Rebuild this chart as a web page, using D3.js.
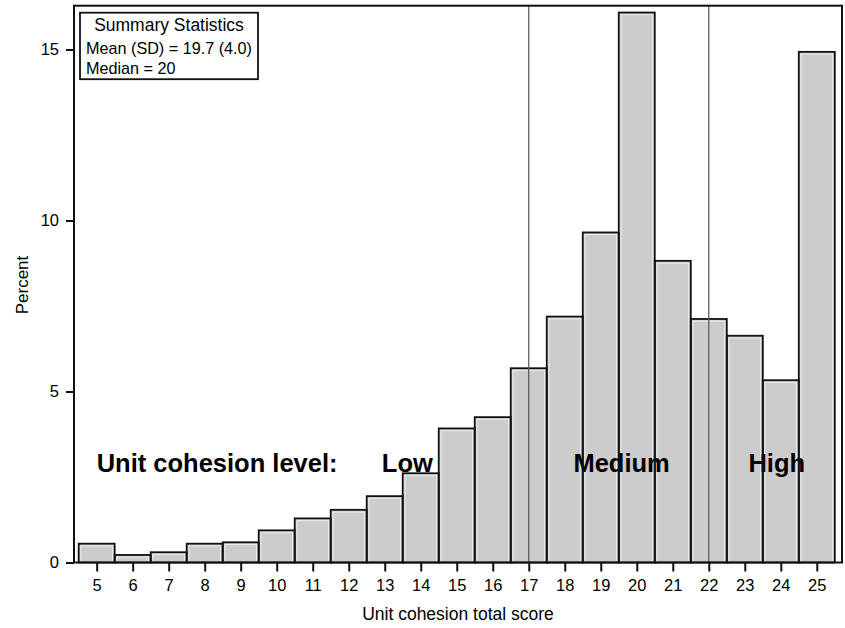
<!DOCTYPE html>
<html><head><meta charset="utf-8">
<script src="https://cdn.jsdelivr.net/npm/d3@7"></script>
<style>body{margin:0;background:#fff}svg{display:block;font-family:"Liberation Sans",Arial,sans-serif}</style>
</head><body><svg id="c" width="845" height="628"></svg>
<script>
const scores = [5,6,7,8,9,10,11,12,13,14,15,16,17,18,19,20,21,22,23,24,25];
const percents = [0.55,0.22,0.30,0.55,0.59,0.94,1.29,1.54,1.94,2.61,3.92,4.25,5.68,7.19,9.65,16.08,8.82,7.12,6.63,5.33,14.93];
const yTicks = [0,5,10,15];
const cutoffs = [17,22];
const levelLabels = [{t:"Unit cohesion level:", v:5.0},{t:"Low", v:12.92},{t:"Medium", v:18.24},{t:"High", v:23.1}];
const levelY = 2.65;
const summaryLines = ["Summary Statistics","Mean (SD) = 19.7 (4.0)","Median = 20"];

const svg = d3.select("#c");
const L=74,R=842,T=5.7,B=562.5;
const x = d3.scaleLinear().domain([4.37,25.70]).range([L,R]);
const y = d3.scaleLinear().domain([0,16.28]).range([B,T]);
const data = scores.map((s,i)=>({s,v:percents[i]}));

// bar fills
svg.append("g").selectAll("rect").data(data).join("rect")
  .attr("x",d=>x(d.s-0.5)).attr("y",d=>y(d.v))
  .attr("width",d=>x(d.s+0.5)-x(d.s-0.5)).attr("height",d=>B-y(d.v))
  .attr("fill","#cccccc");
// inner highlight
svg.append("g").selectAll("rect").data(data).join("rect")
  .attr("x",d=>x(d.s-0.5)+2.2).attr("y",d=>y(d.v)+2.2)
  .attr("width",d=>x(d.s+0.5)-x(d.s-0.5)-4.4).attr("height",d=>Math.max(0,B-y(d.v)-3))
  .attr("fill","none").attr("stroke","#ececec").attr("stroke-width",1);

// level labels
svg.append("g").selectAll("text").data(levelLabels).join("text")
  .attr("x",d=>x(d.v)).attr("y",y(levelY)+0.5)
  .attr("font-size",25.5).attr("font-weight","bold").attr("fill","#000")
  .text(d=>d.t);

// bar outlines
svg.append("g").selectAll("rect").data(data).join("rect")
  .attr("x",d=>x(d.s-0.5)).attr("y",d=>y(d.v))
  .attr("width",d=>x(d.s+0.5)-x(d.s-0.5)).attr("height",d=>B-y(d.v))
  .attr("fill","none").attr("stroke","#111").attr("stroke-width",1.8);

// cutoff lines
svg.append("g").selectAll("line").data(cutoffs).join("line")
  .attr("x1",d=>x(d)).attr("x2",d=>x(d)).attr("y1",T).attr("y2",B)
  .attr("stroke","#555").attr("stroke-width",1.2);

// frame
svg.append("rect").attr("x",L).attr("y",T).attr("width",R-L).attr("height",B-T)
  .attr("fill","none").attr("stroke","#111").attr("stroke-width",2);

// axes
const xa = svg.append("g").attr("transform",`translate(0,${B})`)
  .call(d3.axisBottom(x).tickValues(scores).tickFormat(d3.format("d")).tickSize(9).tickPadding(8));
const ya = svg.append("g").attr("transform",`translate(${L},0)`)
  .call(d3.axisLeft(y).tickValues(yTicks).tickFormat(d3.format("d")).tickSize(8).tickPadding(7));
[xa,ya].forEach(a=>{
  a.select(".domain").remove();
  a.selectAll(".tick line").attr("stroke","#111").attr("stroke-width",2);
  a.selectAll("text").attr("font-size",16.5).attr("fill","#000").attr("font-family","'Liberation Sans',Arial,sans-serif");
});

// axis titles
svg.append("text").attr("x",(L+R)/2).attr("y",620).attr("text-anchor","middle")
  .attr("font-size",17.5).attr("fill","#000").text("Unit cohesion total score");
svg.append("text").attr("transform",`translate(28,${285}) rotate(-90)`).attr("text-anchor","middle")
  .attr("font-size",17).attr("fill","#000").text("Percent");

// summary box
svg.append("rect").attr("x",80).attr("y",12.7).attr("width",178).attr("height",66.5)
  .attr("fill","#fff").attr("stroke","#111").attr("stroke-width",1.8);
svg.append("text").attr("x",169).attr("y",31).attr("text-anchor","middle")
  .attr("font-size",17.5).attr("fill","#000").text(summaryLines[0]);
svg.append("text").attr("x",86).attr("y",53.5).attr("font-size",16.2).attr("fill","#000").text(summaryLines[1]);
svg.append("text").attr("x",86).attr("y",74).attr("font-size",16.2).attr("fill","#000").text(summaryLines[2]);
</script></body></html>
